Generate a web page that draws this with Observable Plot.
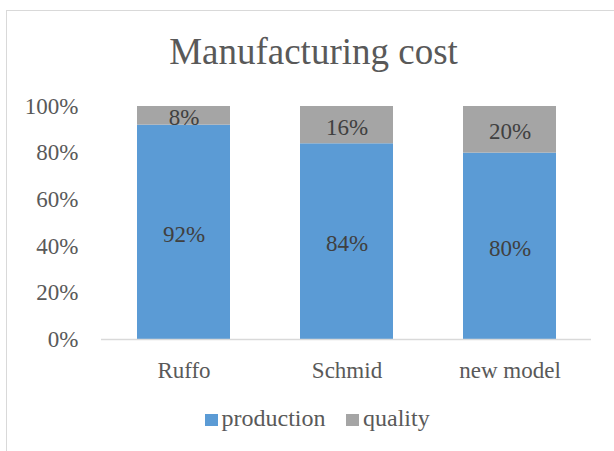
<!DOCTYPE html>
<html>
<head>
<meta charset="utf-8">
<script src="https://cdn.jsdelivr.net/npm/d3@7"></script>
<script src="https://cdn.jsdelivr.net/npm/@observablehq/plot@0.6"></script>
<style>
  html, body { margin: 0; padding: 0; background: #fff; overflow: hidden; }
  #chart { position: relative; width: 614px; height: 451px; overflow: hidden; font-family: "Liberation Serif", "Times New Roman", serif; }
  #frame { position: absolute; left: 6px; top: 10px; width: 800px; height: 800px; border: 1px solid #D9D9D9; box-sizing: border-box; }
  #title { position: absolute; left: 0; top: 33px; width: 614px; padding-left: 13px; box-sizing: border-box; text-align: center; font-size: 37px; line-height: 37px; color: #595959; }
  #plot { position: absolute; left: 0; top: 0; }
  #legend { position: absolute; left: 205px; top: 406px; font-size: 24px; line-height: 24px; color: #595959; white-space: nowrap; }
  #legend .item { display: inline-block; margin-right: 21px; }
  #legend .sw { display: inline-block; width: 12.5px; height: 12.5px; margin-right: 4px; vertical-align: baseline; }
</style>
</head>
<body>
<div id="chart">
  <div id="frame"></div>
  <div id="plot"></div>
  <div id="title">Manufacturing cost</div>
  <div id="legend"></div>
</div>
<script>
const categories = ["Ruffo", "Schmid", "new model"];
const production = [0.92, 0.84, 0.80];
const quality = [0.08, 0.16, 0.20];
const seriesNames = ["production", "quality"];
const seriesColors = ["#5B9BD5", "#A5A5A5"];
const yTicks = [0, 0.2, 0.4, 0.6, 0.8, 1];
const chartTitle = "Manufacturing cost";

const rows = [];
categories.forEach((c, i) => {
  rows.push({category: c, series: seriesNames[0], value: production[i]});
  rows.push({category: c, series: seriesNames[1], value: quality[i]});
});

const font = '"Liberation Serif", "Times New Roman", serif';

const plot = Plot.plot({
  width: 614,
  height: 451,
  marginLeft: 101,
  marginRight: 23,
  marginTop: 106,
  marginBottom: 112,
  style: {fontFamily: font, fontSize: "23px", color: "#595959", background: "transparent", overflow: "visible"},
  x: {domain: categories, paddingInner: 0.43, paddingOuter: 0.215, label: null},
  y: {domain: [0, 1], label: null},
  color: {domain: seriesNames, range: seriesColors},
  marks: [
    Plot.barY(rows, {x: "category", y: "value", fill: "series", order: seriesNames}),
    Plot.ruleY([0], {stroke: "#D9D9D9", strokeWidth: 1.3}),
    Plot.text(rows, Plot.stackY({x: "category", y: "value", z: "series", order: seriesNames,
      text: d => Math.round(d.value * 100) + "%", fill: "#404040", fontSize: 23, dy: 2})),
    Plot.axisY({ticks: yTicks, tickFormat: d => Math.round(d * 100) + "%", tickSize: 0, tickPadding: 23, fontSize: 23, label: null}),
    Plot.axisX({tickSize: 0, tickPadding: 22, fontSize: 23, label: null})
  ]
});
document.getElementById("plot").appendChild(plot);
document.getElementById("title").textContent = chartTitle;

const legend = document.getElementById("legend");
seriesNames.forEach((s, i) => {
  const item = document.createElement("span");
  item.className = "item";
  const sw = document.createElement("span");
  sw.className = "sw";
  sw.style.background = seriesColors[i];
  item.appendChild(sw);
  item.appendChild(document.createTextNode(s));
  legend.appendChild(item);
});
</script>
</body>
</html>
